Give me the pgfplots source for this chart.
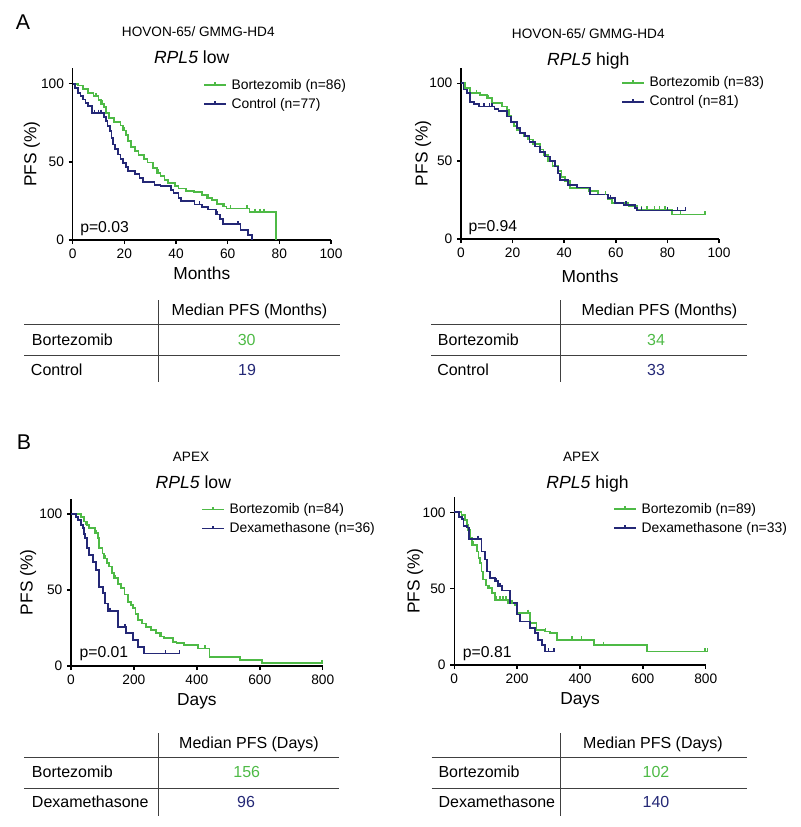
\documentclass[border=0pt]{standalone}
\usepackage{fontspec}
\setmainfont{Liberation Sans}
\usepackage{pgfplots}
\pgfplotsset{compat=1.18}
\definecolor{bgreen}{RGB}{78,186,70}
\definecolor{cblue}{RGB}{36,40,118}
\newcommand\fs[1]{\fontsize{#1}{#1}\selectfont}
\pgfplotsset{km/.style={scale only axis, anchor=south west,
  axis lines=left, axis line style={-, line width=1.1pt, black},
  tick align=outside, tick style={line width=1.1pt, black}, major tick length=3pt,
  ymin=0, ymax=110, ytick={0,50,100}, clip=false,
  tick label style={font=\fs{10.3}}, /pgf/number format/assume math mode=true,
  label style={font=\fs{13}},
  legend style={draw=none, fill=none, anchor=north west, font=\fs{10.4}, inner sep=0pt,
     row sep=3.2pt, column sep=2.5pt, nodes={inner sep=1pt}},
  legend cell align=left,
  legend image code/.code={\draw[#1, line width=1.3pt] (0pt,0pt) -- (16.5pt,0pt);
     \draw[#1, line width=1.2pt] (8.25pt,0pt) -- (8.25pt,2.2pt);}},
  curve/.style={const plot, line width=1.3pt, mark=none},
  cens/.style={forget plot, only marks, mark=|, mark size=1.5pt, mark options={line width=1.1pt, yshift=1pt}}}
\begin{document}
\begin{tikzpicture}
\useasboundingbox (0,0) rectangle (600pt,-620.25pt);
% ---------------- A left
\begin{axis}[km, at={(54.53pt,-180pt)}, width=193.7pt, height=129pt,
  xmin=0, xmax=100, xtick={0,20,...,100}, xlabel={Months}, ylabel={PFS (\%)},
  xlabel style={at={(axis description cs:0.5,-0.192)}, anchor=center},
  ylabel style={at={(axis description cs:-0.158,0.5)}, anchor=center},
  legend style={at={(0.504,0.945)}}]
\addplot[bgreen, curve] coordinates {(0,100)(2,98.8)(4,96.5)(6,94.2)(8,91.9)(10,89.6)(11,87.2)(12,84.9)(13,81.4)(14,78)(16,75.6)(18.5,73.3)(19.5,70)(20.5,67)(21.5,63.5)(22.5,59.5)(24,57)(25.5,54.2)(27.5,52)(29,49.5)(31,46)(32.5,43)(34,41)(35.5,38.5)(37,36.5)(39.5,34.5)(41,33)(44,31.5)(47,30.8)(50,29)(52,27)(54,25.5)(56,23)(58,21.5)(59.5,20.2)(68.5,18)(78.7,18)(78.7,0)};
\addlegendentry{Bortezomib (n=86)}
\addplot[cblue, curve] coordinates {(0,100)(1,97)(2,94)(3,92)(4,89.8)(5,87.5)(6,85.5)(7.5,81.3)(12,78.5)(12.8,76)(13.5,73)(14.3,69.5)(15,65)(15.6,61)(16.5,58)(17.5,54.6)(18.5,52)(19.5,49.3)(20.5,46.5)(21.4,44)(24,42)(25.9,39.7)(27.2,37.1)(31.7,35.4)(34,34.4)(38,32)(39,30.1)(41,27)(42,24.8)(47.2,22.7)(50,21)(52.4,19.5)(55.6,16.3)(57,13.5)(58.2,10)(65,6.4)(67.8,3.2)(69.5,3.2)(69.5,0)};
\addlegendentry{Control (n=77)}
\addplot[bgreen, cens] coordinates {(9,91.9)(11.5,87.2)(20,70)(33,43)(52.5,27)(58.5,21.5)(61,20.2)(67.5,20.2)(70.5,18)(72.5,18)(74,18)};
\addplot[cblue, cens] coordinates {(8.5,81.3)(10,81.3)(11,81.3)(49,22.7)(56,16.3)(64,10)};
\end{axis}
% ---------------- A right
\begin{axis}[km, at={(345.75pt,-179.25pt)}, width=193.5pt, height=128.5pt,
  xmin=0, xmax=100, xtick={0,20,...,100}, xlabel={Months}, ylabel={PFS (\%)},
  xlabel style={at={(axis description cs:0.5,-0.216)}, anchor=center},
  ylabel style={at={(axis description cs:-0.147,0.5)}, anchor=center},
  legend style={at={(0.62,0.957)}}]
\addplot[bgreen, curve] coordinates {(0,100)(1.5,96.8)(3.5,93.6)(7.4,92.5)(10,90.4)(11.9,87.2)(15.8,85)(17.7,82.9)(18.5,79)(19.6,75.4)(20.5,72.5)(21.6,70.1)(23,68)(24.5,65.9)(26.1,63.8)(28,61)(30.6,57.4)(32,54)(33.8,49.9)(35.5,47)(37.7,43.5)(39,40)(40.3,37.1)(42.3,32.8)(49.4,30.7)(53.2,28.6)(57.1,25.4)(58.4,23.3)(64.9,21.1)(68.1,19)(81.7,15.8)(94.5,15.8)};
\addlegendentry{Bortezomib (n=83)}
\addplot[cblue, curve] coordinates {(0,100)(1,96)(2.2,93.6)(3.5,88)(5,86.5)(7,85)(13,83.5)(14.5,82)(17.7,78.6)(19.5,75)(21.6,71.2)(23,68)(24.8,65.9)(26.5,62.5)(28.7,59.4)(30.5,56)(32.6,53)(34.5,50)(36.4,46.6)(37.5,42)(38.4,38)(41.6,34.9)(45,33)(50,28.5)(57.1,26.4)(59.7,23.2)(63,22)(67.4,20)(68.1,18.3)(87,18.3)};
\addlegendentry{Control (n=81)}
\addplot[bgreen, cens] coordinates {(6,93.6)(7.5,92.5)(10.5,90.4)(56,28.6)(58,25.4)(70,19)(72,19)(75,19)(77,19)(79,19)(85,15.8)(94.5,15.8)};
\addplot[cblue, cens] coordinates {(9,85)(11,85)(12,85)(58,26.4)(64,22)(70,18.3)(80,18.3)(84,18.3)(87,18.3)};
\end{axis}
% ---------------- B left
\begin{axis}[km, at={(53.25pt,-499.5pt)}, width=188.8pt, height=125.4pt,
  xmin=0, xmax=800, xtick={0,200,...,800}, xlabel={Days}, ylabel={PFS (\%)},
  xlabel style={at={(axis description cs:0.5,-0.209)}, anchor=center},
  ylabel style={at={(axis description cs:-0.170,0.5)}, anchor=center},
  legend style={at={(0.516,0.981)}}]
\addplot[bgreen, curve] coordinates {(0,100)(31.8,98.2)(42.4,95)(50,93)(58.3,90.6)(77.4,87.3)(84.8,84)(88,80)(90.1,77.4)(100,74)(106,70.8)(115,68)(121.9,65.4)(130,61)(137.8,57.7)(150,54)(159,51.1)(170,47)(180,42.3)(190,40)(196,38)(205,34)(212,30.3)(225,28)(238.4,25.9)(255,23.5)(270,21.5)(285,19.5)(296.6,18.2)(323,16)(335,15)(360,13.8)(402.5,11.6)(440,6.1)(537,3.9)(606,1.8)(800,1.8)};
\addlegendentry{Bortezomib (n=84)}
\addplot[cblue, curve] coordinates {(0,100)(15,98.2)(21.2,96)(31.8,93)(37,90.6)(42,87)(45.5,84)(49.8,77.4)(58.3,73)(68.9,68.6)(79.5,63.2)(87.9,52.2)(100.7,47.8)(108,41.2)(116.5,36.2)(150,25.5)(174.8,21.5)(196,17.1)(212,12.7)(233,8.3)(344,8.3)};
\addlegendentry{Dexamethasone (n=36)}
\addplot[bgreen, cens] coordinates {(48,93)(80,87.3)(86,84)(108,70.8)(140,57.7)(197,38)(283,19.5)(405,11.6)(426,11.6)(798,1.8)};
\addplot[cblue, cens] coordinates {(124,36.2)(172,25.5)(300,8.3)(344,8.3)};
\end{axis}
% ---------------- B right
\begin{axis}[km, at={(340.7pt,-498.75pt)}, width=188.6pt, height=126pt,
  xmin=0, xmax=800, xtick={0,200,...,800}, xlabel={Days}, ylabel={PFS (\%)},
  xlabel style={at={(axis description cs:0.5,-0.209)}, anchor=center},
  ylabel style={at={(axis description cs:-0.156,0.5)}, anchor=center},
  legend style={at={(0.631,0.974)}}]
\addplot[bgreen, curve] coordinates {(0,100)(23,98)(34,95)(40,92)(44.7,88.4)(50,83)(55.3,78.7)(71.2,74.4)(77,70)(81.8,66.8)(87,61.3)(92.4,55.9)(100,52)(108.3,50.4)(118.9,47.1)(129.5,42.8)(172,40.6)(193.2,39.5)(198.5,34)(241,27.5)(262,23.1)(288.6,22)(304.5,20.9)(325.7,16.5)(444,13.2)(612,8.8)(805,8.8)};
\addlegendentry{Bortezomib (n=89)}
\addplot[cblue, curve] coordinates {(0,100)(15,97)(23.5,95.6)(29,91.2)(39.4,90.1)(48,82.5)(87,74.4)(97.7,69)(103,61.3)(113.6,57)(129.5,54.8)(140,51.5)(150.7,48.7)(177,40.6)(198.5,33)(209,28.5)(241,24.2)(257,20.9)(267.5,16.5)(278,13.2)(288.6,8.8)(317,8.8)};
\addlegendentry{Dexamethasone (n=33)}
\addplot[bgreen, cens] coordinates {(60,78.7)(110,50.4)(135,42.8)(145,42.8)(155,42.8)(165,42.8)(183,40.6)(234,34)(290,22)(375,16.5)(405,16.5)(475,13.2)(797,8.8)(805,8.8)};
\addplot[cblue, cens] coordinates {(75,82.5)(135,54.8)(145,51.5)(300,8.8)(317,8.8)};
\end{axis}
% ---------------- texts and tables (pixel units)
\begin{scope}[x=0.75pt, y=-0.75pt]
\node[font=\fs{16}] at (23,22) {A};
\node[font=\fs{16}] at (24,442) {B};
\node[font=\fs{10.2}, anchor=base] at (198.3,36.5) {HOVON-65/ GMMG-HD4};
\node[font=\fs{10.2}, anchor=base] at (588.3,38.5) {HOVON-65/ GMMG-HD4};
\node[font=\fs{13.2}, anchor=base] at (191.7,63.3) {\textit{RPL5} low};
\node[font=\fs{13.2}, anchor=base] at (588.3,66) {\textit{RPL5} high};
\node[font=\fs{10.2}, anchor=base] at (191,461.7) {APEX};
\node[font=\fs{10.2}, anchor=base] at (581.3,461.7) {APEX};
\node[font=\fs{13.2}, anchor=base] at (193.3,488.3) {\textit{RPL5} low};
\node[font=\fs{13.2}, anchor=base] at (587.5,488.3) {\textit{RPL5} high};
\node[font=\fs{11.8}, anchor=base west, inner sep=0pt] at (80,232.3) {p=0.03};
\node[font=\fs{11.8}, anchor=base west, inner sep=0pt] at (468.3,231.7) {p=0.94};
\node[font=\fs{11.8}, anchor=base west, inner sep=0pt] at (79.3,657.3) {p=0.01};
\node[font=\fs{11.8}, anchor=base west, inner sep=0pt] at (462.7,657.3) {p=0.81};
% tables
\begin{scope}[line width=0.75pt, draw=black!75]
\draw (24,324.3) -- (340,324.3); \draw (24,355.3) -- (340,355.3); \draw (158.7,300) -- (158.7,382.3);
\draw (431,324.3) -- (746.7,324.3); \draw (431,355.3) -- (746.7,355.3); \draw (560.7,300) -- (560.7,382.3);
\draw (24,757.7) -- (339.3,757.7); \draw (24,788.7) -- (339.3,788.7); \draw (158.7,733.3) -- (158.7,816);
\draw (431.7,757.7) -- (746.7,757.7); \draw (431.7,788.7) -- (746.7,788.7); \draw (560.3,733.3) -- (560.3,816);
\end{scope}
\begin{scope}[every node/.style={font=\fs{12}, inner sep=0pt}]
\node[anchor=base] at (249.5,315) {Median PFS (Months)};
\node[anchor=base west] at (31.7,345) {Bortezomib};
\node[anchor=base west] at (30.7,375) {Control};
\node[anchor=base, text=bgreen] at (246.7,345) {30};
\node[anchor=base, text=cblue] at (247,375) {19};
\node[anchor=base] at (659.5,315) {Median PFS (Months)};
\node[anchor=base west] at (437.7,345) {Bortezomib};
\node[anchor=base west] at (437,375) {Control};
\node[anchor=base, text=bgreen] at (656,345) {34};
\node[anchor=base, text=cblue] at (656,375) {33};
\node[anchor=base] at (249,748.3) {Median PFS (Days)};
\node[anchor=base west] at (31.7,777.7) {Bortezomib};
\node[anchor=base west] at (31.7,807.7) {Dexamethasone};
\node[anchor=base, text=bgreen] at (246.7,777.7) {156};
\node[anchor=base, text=cblue] at (246,807.7) {96};
\node[anchor=base] at (653,748.3) {Median PFS (Days)};
\node[anchor=base west] at (438.3,777.7) {Bortezomib};
\node[anchor=base west] at (438.3,807.7) {Dexamethasone};
\node[anchor=base, text=bgreen] at (656,777.7) {102};
\node[anchor=base, text=cblue] at (656,807.7) {140};
\end{scope}
\end{scope}
\end{tikzpicture}
\end{document}
